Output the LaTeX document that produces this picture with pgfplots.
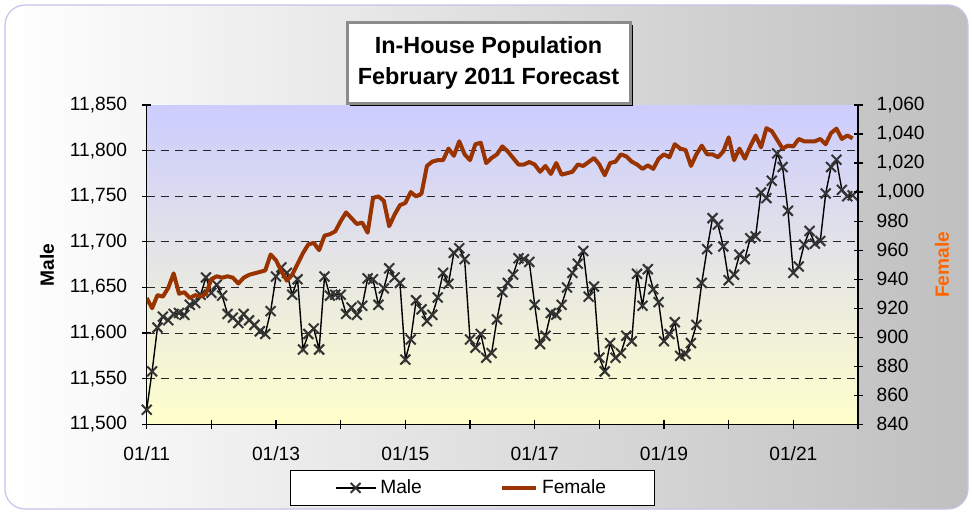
\documentclass[border=0pt]{standalone}
\usepackage{fontspec}
\setmainfont{Liberation Sans}
\usepackage{pgfplots}
\usepackage{pgfplotstable}
\pgfplotsset{compat=1.18}
\usetikzlibrary{shadows}
\definecolor{femBrown}{HTML}{993300}
\definecolor{femOrange}{HTML}{FF6600}
\definecolor{plotTop}{HTML}{CCCCFF}
\definecolor{plotBot}{HTML}{FFFFCC}
\definecolor{frameEdge}{HTML}{C4C4EC}
\definecolor{markGray}{HTML}{333333}

% month index (0 = Jan 2011), in-house male population
\pgfplotstableread{
m male
0 11516
1 11558
2 11606
3 11618
4 11614
5 11621
6 11622
7 11620
8 11631
9 11633
10 11642
11 11661
12 11644
13 11653
14 11641
15 11621
16 11617
17 11611
18 11621
19 11614
20 11609
21 11602
22 11599
23 11624
24 11662
25 11672
26 11666
27 11642
28 11659
29 11582
30 11599
31 11605
32 11582
33 11662
34 11641
35 11642
36 11642
37 11621
38 11628
39 11620
40 11630
41 11660
42 11659
43 11631
44 11649
45 11671
46 11661
47 11655
48 11571
49 11593
50 11636
51 11626
52 11613
53 11620
54 11639
55 11666
56 11654
57 11688
58 11693
59 11681
60 11593
61 11584
62 11599
63 11573
64 11578
65 11615
66 11645
67 11655
68 11664
69 11682
70 11681
71 11678
72 11631
73 11588
74 11597
75 11622
76 11620
77 11631
78 11650
79 11666
80 11676
81 11690
82 11640
83 11651
84 11573
85 11558
86 11589
87 11573
88 11578
89 11597
90 11591
91 11665
92 11630
93 11670
94 11648
95 11634
96 11591
97 11599
98 11612
99 11575
100 11577
101 11589
102 11609
103 11655
104 11692
105 11726
106 11719
107 11695
108 11658
109 11664
110 11686
111 11681
112 11704
113 11706
114 11754
115 11748
116 11767
117 11797
118 11782
119 11734
120 11666
121 11673
122 11697
123 11712
124 11698
125 11701
126 11753
127 11782
128 11790
129 11757
130 11750
131 11751
}\maletable

% month index, in-house female population
\pgfplotstableread{
m female
0 927
1 920
2 929
3 928
4 934
5 944
6 930
7 931
8 927
9 929
10 928
11 930
12 940
13 942
14 941
15 942
16 941
17 937
18 941
19 943
20 944
21 945
22 946
23 957
24 953
25 945.5
26 939
27 943
28 950.5
29 958
30 964
31 965
32 960
33 970
34 971
35 973
36 980
37 986
38 982
39 978
40 979
41 972
42 996
43 997
44 994
45 976.5
46 984.5
47 991
48 992.5
49 1000
50 997
51 999
52 1018
53 1021
54 1022
55 1022
56 1030
57 1025
58 1035
59 1026
60 1022
61 1033
62 1034
63 1020
64 1023.5
65 1026
66 1031.5
67 1028
68 1023.5
69 1019
70 1019
71 1020.7
72 1019
73 1014
74 1018
75 1012.5
76 1020
77 1012
78 1013
79 1014
80 1019
81 1018
82 1020.7
83 1023.5
84 1019
85 1011.6
86 1020
87 1021
88 1026
89 1024.6
90 1021
91 1019
92 1016
93 1018.4
94 1016
95 1023
96 1026
97 1024
98 1033
99 1030
100 1029
101 1018
102 1026
103 1032
104 1026
105 1026
106 1024
107 1028
108 1037.7
109 1022
110 1030
111 1023
112 1031.5
113 1039
114 1030.8
115 1044
116 1042
117 1036
118 1030
119 1032
120 1031.5
121 1036.6
122 1035
123 1035
124 1035
125 1036.6
126 1033
127 1040.7
128 1043.7
129 1036.6
130 1039
131 1037
}\femaletable

\pgfplotsset{
  popaxis/.style={
    at={(73.35pt,43.35pt)}, anchor=south west, scale only axis,
    width=355.65pt, height=159.65pt, xmin=0, xmax=132,
    font=\fontsize{9.6}{11.5}\selectfont,
    tick label style={font=\fontsize{9.6}{11.5}\selectfont},
    scaled y ticks=false,
    /pgf/number format/assume math mode=true,
    /pgf/number format/.cd, fixed, precision=0, 1000 sep={,}, /pgfplots/.cd,
    tick align=center, major tick length=4.5pt,
    axis line style={black, line width=0.6pt},
    tick style={black, line width=0.6pt},
  },
}

\begin{document}
\begin{tikzpicture}
\fill[white] (0,0) rectangle (486pt,255.5pt);
\shadedraw[left color=white, right color=black!25, draw=frameEdge, line width=0.6pt, rounded corners=10pt]
  (2.5pt,1pt) rectangle (484pt,253pt);

\begin{axis}[popaxis,
  ymin=11500, ymax=11850, ytick={11500,11550,...,11850},
  xtick={0,12,...,132}, xticklabels={01/11,,01/13,,01/15,,01/17,,01/19,,01/21,},
  xticklabel style={yshift=-5.5pt}, yticklabel style={xshift=-4pt},
  axis x line*=bottom, axis y line*=left,
  extra y ticks={11550,11600,...,11800}, extra y tick labels={},
  extra y tick style={grid=major, major tick length=0pt},
  grid style={black!85, dash pattern=on 4pt off 3pt, line width=0.5pt},
  axis background/.style={shade, top color=plotTop, bottom color=plotBot},
  ylabel={\bfseries Male},
  ylabel style={at={(axis description cs:-0.140,0.5)}, anchor=center},
]
\addplot[black, line width=0.7pt, mark=x, mark size=3.5pt, mark options={markGray, line width=1pt}]
  table[x=m, y=male] {\maletable};
\end{axis}

\begin{axis}[popaxis,
  ymin=840, ymax=1060, ytick={840,860,...,1060},
  axis x line=none, axis y line*=right,
  yticklabel style={xshift=3.5pt},
  ylabel={\bfseries Female}, ylabel style={femOrange, at={(axis description cs:1.118,0.5)}, anchor=center},
  legend columns=2,
  legend style={at={(axis description cs:0.458,-0.143)}, anchor=north, draw=black, fill=white,
    inner xsep=22pt, inner ysep=2.5pt, font=\fontsize{9.6}{11.5}\selectfont,
    /tikz/every even column/.append style={column sep=37pt}},
  legend cell align=left,
]
\addlegendimage{black, line width=0.7pt, mark=x, mark size=3.5pt, mark options={markGray, line width=1pt},
  legend image code/.code={\draw[mark repeat=2, mark phase=2] plot coordinates {(0pt,0pt) (10pt,0pt) (20pt,0pt)};}}
\addlegendentry{Male}
\addplot[femBrown, line width=2pt, line join=round]
  table[x=m, y=female] {\femaletable};
\addlegendentry{Female}
\end{axis}

\node[draw=black!45, line width=1.5pt, fill=white, minimum width=141.5pt, minimum height=40.5pt,
  align=center, font=\bfseries\fontsize{11.7}{15.5}\selectfont,
  drop shadow={shadow xshift=1.6pt, shadow yshift=-1.6pt, fill=black, opacity=1}]
  at (244.25pt,224.25pt) {In-House Population\\February 2011 Forecast};
\end{tikzpicture}
\end{document}
